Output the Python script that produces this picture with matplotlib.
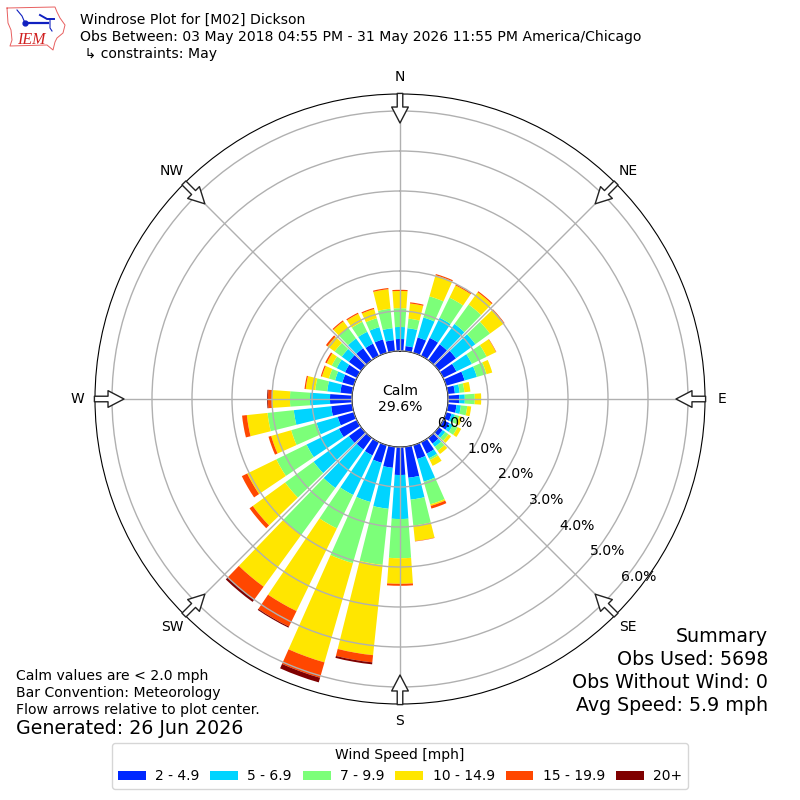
import numpy as np
import matplotlib
matplotlib.use("Agg")
import matplotlib.pyplot as plt

directions = np.arange(0, 360, 10)
bin_labels = ["2 - 4.9", "5 - 6.9", "7 - 9.9", "10 - 14.9", "15 - 19.9", "20+"]
bin_colors = ["#0028ff", "#00d4ff", "#7cff79", "#ffe600", "#ff4700", "#7f0000"]

# percent of obs per direction, N clockwise
speed_2_5 = [.30, .13, .40, .50, .49, .53, .37, .48, .18, .28, .22, .14,
             .17, .12, .18, .32, .36, .78, .70, .53, .46, .37, .36, .38,
             .50, .42, .53, .55, .30, .30, .33, .38, .37, .34, .35, .28]
speed_5_7 = [.30, .45, .52, .56, .63, .60, .43, .32, .12, .14, .11, .09,
             .10, .08, .10, .13, .59, .55, 1.10, 1.03, 1.02, 1.10, 1.19, 1.09,
             .90, .55, .94, .50, .33, .19, .23, .22, .30, .33, .32, .30]
speed_7_10 = [.47, .24, .55, .56, .60, .45, .41, .25, .12, .25, .16, .11,
              .13, .10, .12, .05, .59, .65, .98, 1.41, 1.59, .93, 1.45, .88,
              .84, .66, .66, .50, .30, .16, .14, .22, .33, .28, .23, .49]
speed_10_15 = [.43, .38, .55, .34, .38, .43, .26, .15, .15, .16, .10, .08,
               .10, .08, .10, .16, .04, .39, .64, 2.27, 2.58, 2.30, 1.60, 1.00,
               .81, .52, .52, .45, .24, .18, .14, .22, .20, .22, .24, .49]
speed_15_20 = [.03, .03, .03, .03, .03, .02, .01, 0, 0, 0, 0, 0,
               0, 0, 0, 0, .07, .01, .05, .18, .40, .43, .40, .10,
               .15, .07, .12, .10, .03, .03, .04, .05, .03, .03, .03, .03]
speed_20 = [0, 0, 0, 0, 0, 0, 0, 0, 0, 0, 0, 0,
            0, 0, 0, 0, 0, 0, 0, .05, .12, .03, .07, 0,
            0, 0, 0, .02, 0, 0, 0, 0, 0, 0, 0, 0]
all_bins = [speed_2_5, speed_5_7, speed_7_10, speed_10_15, speed_15_20, speed_20]

compass = ["N", "NE", "E", "SE", "S", "SW", "W", "NW"]
rings = [0, 1, 2, 3, 4, 5, 6]

fig = plt.figure(figsize=(8, 8), dpi=100)
ax = fig.add_axes([95 / 800, 96 / 800, 610 / 800, 610 / 800], projection="polar")
ax.set_theta_zero_location("N")
ax.set_theta_direction(-1)
ax.set_axisbelow(False)

theta = np.deg2rad(directions)
bottom = np.zeros(len(directions))
handles = []
for vals, color, label in zip(all_bins, bin_colors, bin_labels):
    vals = np.array(vals)
    b = ax.bar(theta, vals, width=np.deg2rad(8), bottom=bottom, color=color,
               linewidth=0, label=label, zorder=2)
    handles.append(b)
    bottom = bottom + vals

ax.set_rorigin(-1.2)
ax.set_rlim(0, 6.425)
ax.set_xticks(np.deg2rad(np.arange(0, 360, 45)))
ax.set_xticklabels(compass, fontsize=10)
ax.tick_params(axis="x", pad=2)
ax.set_yticks(rings)
ax.set_yticklabels(["%.1f%%" % r for r in rings], fontsize=10.1)
ax.set_rlabel_position(130)
ax.grid(True, color="#b0b0b0", linewidth=1, zorder=3)

# flow arrows on the rim
for ang in np.arange(0, 360, 45):
    ax.annotate("", xy=(np.deg2rad(ang), 5.7), xytext=(np.deg2rad(ang), 6.44),
                annotation_clip=False, zorder=5,
                arrowprops=dict(facecolor="white", edgecolor="#222222", linewidth=1,
                                width=4, headwidth=12, headlength=11.5, shrink=0))

ax.text(0.5, 0.5, "Calm\n29.6%", transform=ax.transAxes, ha="center", va="center",
        fontsize=10.1, zorder=6, linespacing=1.27)

fig.text(80 / 800, 1 - 13 / 800, "Windrose Plot for [M02] Dickson\n"
         "Obs Between: 03 May 2018 04:55 PM - 31 May 2026 11:55 PM America/Chicago\n"
         " \u21b3 constraints: May", fontsize=10.1, va="top", ha="left", linespacing=1.27)
fig.text(16 / 800, 1 - 669 / 800, "Calm values are < 2.0 mph\nBar Convention: Meteorology\n"
         "Flow arrows relative to plot center.", fontsize=10.1, va="top", ha="left", linespacing=1.27)
fig.text(16 / 800, 1 - 729 / 800, "Generated: 26 Jun 2026", fontsize=13.7, va="center", ha="left")
fig.text(768 / 800, 1 - 715 / 800, "Summary\nObs Used: 5698\nObs Without Wind: 0\nAvg Speed: 5.9 mph",
         fontsize=13.7, va="bottom", ha="right", linespacing=1.26)

leg = fig.legend(handles=handles, labels=bin_labels, title="Wind Speed [mph]", ncol=6,
                 loc="lower center", bbox_to_anchor=(0.5, 11 / 800), fontsize=10,
                 title_fontsize=10, borderaxespad=0, columnspacing=0.78, handletextpad=0.68)

# IEM logo, rough sketch
logo = fig.add_axes([5 / 800, 1 - 52 / 800, 62 / 800, 48 / 800])
logo.set_xlim(5, 67)
logo.set_ylim(52, 4)
logo.axis("off")
out_x = [7, 55, 57, 60, 65, 63, 57, 55, 53, 47, 10, 12, 11, 8, 7]
out_y = [8, 7, 12, 18, 25, 33, 38, 42, 50, 45, 46, 40, 30, 23, 8]
logo.plot(out_x, out_y, color="#e86060", linewidth=0.7)
logo.plot([25, 48], [23, 23], color="#1020c0", linewidth=1.6)
logo.plot([25], [23], "o", color="#1020c0", markersize=3.5)
logo.plot([17, 22, 25], [10, 16, 23], color="#1020c0", linewidth=0.8)
logo.plot([40, 47, 54], [15, 19, 19], color="#1020c0", linewidth=1.4)
logo.plot([50, 50, 52], [19, 28, 31], color="#1020c0", linewidth=0.8)
logo.text(17, 44, "IEM", color="#d02020", fontsize=11.5, family="Liberation Serif", style="italic")

plt.savefig("out.png", dpi=100)
